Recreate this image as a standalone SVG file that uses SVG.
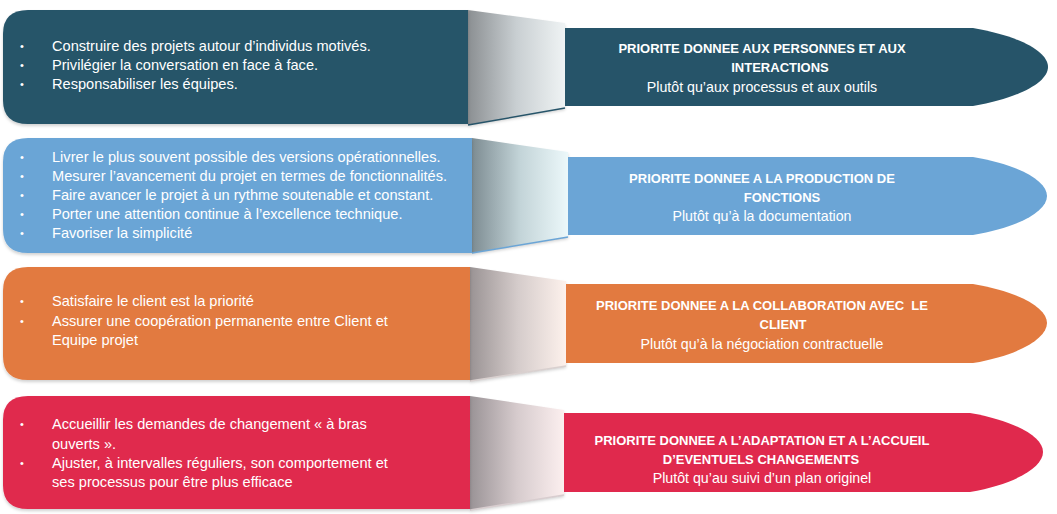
<svg xmlns="http://www.w3.org/2000/svg" width="1057" height="514" viewBox="0 0 1057 514">
<defs>
<style>
text{font-family:"Liberation Sans",Arial,sans-serif;fill:#ffffff}
.li{font-size:14.6px}
.bu{font-size:11px}
.hd{font-size:13px;font-weight:bold;text-anchor:middle}
.sb{font-size:14.2px;text-anchor:middle}
.pre{white-space:pre}
</style>
<filter id="sh" x="-5%" y="-10%" width="110%" height="125%">
<feDropShadow dx="0" dy="2" stdDeviation="1.5" flood-color="#000" flood-opacity="0.18"/>
</filter>
<linearGradient id="g1" x1="0" y1="0" x2="1" y2="0"><stop offset="0" stop-color="#8b8f92"/><stop offset="0.5" stop-color="#c9cfd2"/><stop offset="1" stop-color="#eff3f4"/></linearGradient>
<linearGradient id="g2" x1="0" y1="0" x2="1" y2="0"><stop offset="0" stop-color="#7d8c92"/><stop offset="0.5" stop-color="#c3d4d8"/><stop offset="1" stop-color="#ecf8fa"/></linearGradient>
<linearGradient id="g3" x1="0" y1="0" x2="1" y2="0"><stop offset="0" stop-color="#9a9394"/><stop offset="0.5" stop-color="#d5cccb"/><stop offset="1" stop-color="#fdf1ec"/></linearGradient>
<linearGradient id="g4" x1="0" y1="0" x2="1" y2="0"><stop offset="0" stop-color="#9a9396"/><stop offset="0.5" stop-color="#d6cbcd"/><stop offset="1" stop-color="#fcefef"/></linearGradient>
</defs>
<rect width="1057" height="514" fill="#ffffff"/>

<g id="connectors">
<path d="M468,10 L565,23 L565,108 L468,125 Z" fill="url(#g1)" filter="url(#sh)"/>
<path d="M468,125 L565,108" stroke="#265469" stroke-width="1.5" fill="none"/>
<path d="M472,138 L568,152 L568,237 L472,253 Z" fill="url(#g2)" filter="url(#sh)"/>
<path d="M472,253 L568,237" stroke="#6ba5d6" stroke-width="1.5" fill="none"/>
<path d="M470,267 L566,281 L566,366 L470,381 Z" fill="url(#g3)" filter="url(#sh)"/>
<path d="M470,381 L566,366" stroke="#d9d0cf" stroke-width="1.5" fill="none"/>
<path d="M470,396 L564,410 L564,495 L470,510 Z" fill="url(#g4)" filter="url(#sh)"/>
<path d="M470,510 L564,495" stroke="#d8cdcf" stroke-width="1.5" fill="none"/>
</g>

<g id="left1">
<path d="M28,10 H468 V124 H28 Q3,124 3,100 V34 Q3,10 28,10 Z" fill="#265469" filter="url(#sh)"/>
<text class="bu" x="20" y="50">•</text><text class="li" x="52" y="51">Construire des projets autour d’individus motivés.</text>
<text class="bu" x="20" y="69">•</text><text class="li" x="52" y="70">Privilégier la conversation en face à face.</text>
<text class="bu" x="20" y="88">•</text><text class="li" x="52" y="89">Responsabiliser les équipes.</text>
</g>
<g id="right1">
<path d="M565,28 H973 C1020,36 1048,52 1048,67 C1048,82 1020,98 973,106 H565 Z" fill="#265469"/>
<text class="hd" x="762" y="52.5">PRIORITE DONNEE AUX PERSONNES ET AUX</text>
<text class="hd" x="780" y="72">INTERACTIONS</text>
<text class="sb" x="762" y="92">Plutôt qu’aux processus et aux outils</text>
</g>

<g id="left2">
<path d="M28,138 H472 V253 H28 Q3,253 3,229 V162 Q3,138 28,138 Z" fill="#6ba5d6" filter="url(#sh)"/>
<text class="bu" x="20" y="161">•</text><text class="li" x="52" y="162">Livrer le plus souvent possible des versions opérationnelles.</text>
<text class="bu" x="20" y="180">•</text><text class="li" x="52" y="181">Mesurer l’avancement du projet en termes de fonctionnalités.</text>
<text class="bu" x="20" y="199">•</text><text class="li" x="52" y="200">Faire avancer le projet à un rythme soutenable et constant.</text>
<text class="bu" x="20" y="218">•</text><text class="li" x="52" y="219">Porter une attention continue à l’excellence technique.</text>
<text class="bu" x="20" y="237">•</text><text class="li" x="52" y="238">Favoriser la simplicité</text>
</g>
<g id="right2">
<path d="M568,157 H973 C1020,165 1047,181 1047,196 C1047,211 1020,227 973,235 H568 Z" fill="#6ba5d6"/>
<text class="hd" x="762" y="182.5">PRIORITE DONNEE A LA PRODUCTION DE</text>
<text class="hd" x="782" y="201.5">FONCTIONS</text>
<text class="sb" x="762" y="221">Plutôt qu’à la documentation</text>
</g>

<g id="left3">
<path d="M28,267 H470 V380 H28 Q3,380 3,356 V291 Q3,267 28,267 Z" fill="#e27a40" filter="url(#sh)"/>
<text class="bu" x="20" y="305">•</text><text class="li" x="52" y="306">Satisfaire le client est la priorité</text>
<text class="bu" x="20" y="325">•</text><text class="li" x="52" y="326">Assurer une coopération permanente entre Client et</text>
<text class="li" x="52" y="345">Equipe projet</text>
</g>
<g id="right3">
<path d="M566,284 H973 C1020,292 1047,308 1047,323 C1047,338 1020,355 973,363 H566 Z" fill="#e27a40"/>
<text class="hd pre" x="762" y="309.5">PRIORITE DONNEE A LA COLLABORATION AVEC  LE</text>
<text class="hd" x="783" y="328.5">CLIENT</text>
<text class="sb" x="762" y="349">Plutôt qu’à la négociation contractuelle</text>
</g>

<g id="left4">
<path d="M28,396 H470 V509 H28 Q3,509 3,485 V420 Q3,396 28,396 Z" fill="#e0294d" filter="url(#sh)"/>
<text class="bu" x="20" y="428">•</text><text class="li" x="52" y="429">Accueillir les demandes de changement « à bras</text>
<text class="li" x="52" y="448.5">ouverts ».</text>
<text class="bu" x="20" y="467">•</text><text class="li" x="52" y="468">Ajuster, à intervalles réguliers, son comportement et</text>
<text class="li" x="52" y="487">ses processus pour être plus efficace</text>
</g>
<g id="right4">
<path d="M564,413 H970 C1016,421 1043,437 1043,452 C1043,467 1016,484 970,492 H564 Z" fill="#e0294d"/>
<text class="hd" x="762" y="444.5">PRIORITE DONNEE A L’ADAPTATION ET A L’ACCUEIL</text>
<text class="hd" x="761" y="463.5">D’EVENTUELS CHANGEMENTS</text>
<text class="sb" x="762" y="483">Plutôt qu’au suivi d’un plan originel</text>
</g>
</svg>
